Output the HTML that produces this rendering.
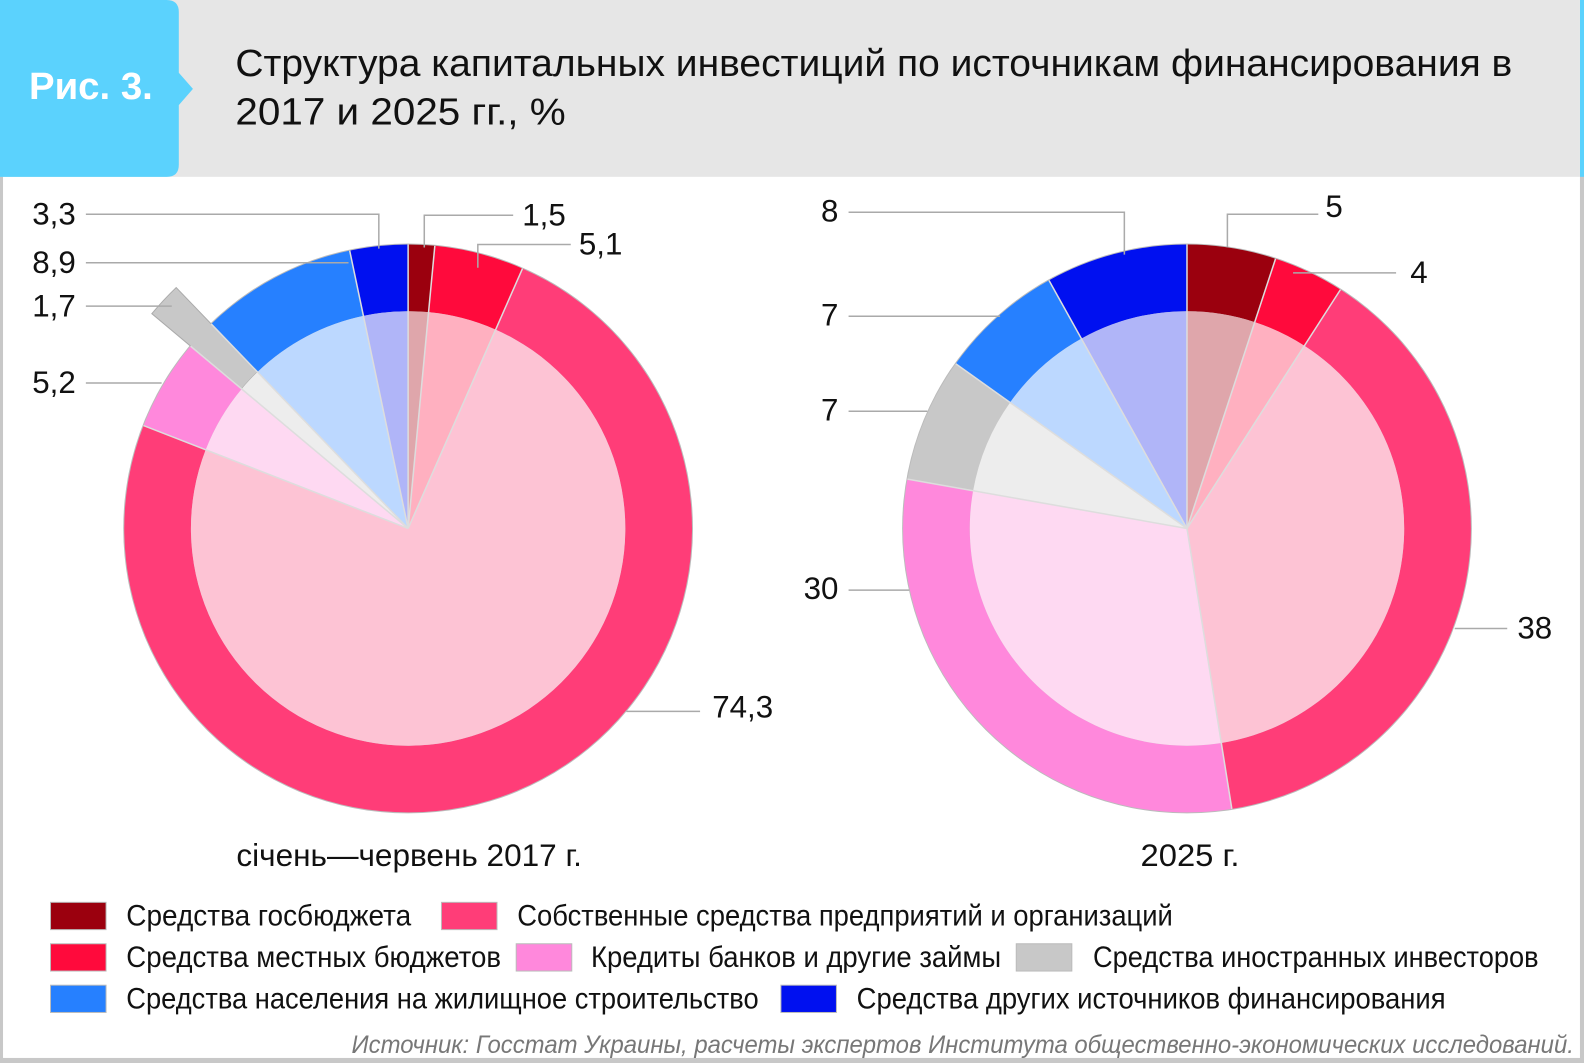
<!DOCTYPE html>
<html><head><meta charset="utf-8"><style>
html,body{margin:0;padding:0;background:#fff;}
svg{display:block;}
text{font-family:"Liberation Sans Narrow","Liberation Sans",sans-serif;}
</style></head><body>
<svg id="chart" width="1584" height="1063" viewBox="0 0 1568 1052" preserveAspectRatio="none" xmlns="http://www.w3.org/2000/svg">
  <rect x="0" y="0" width="1568" height="1052" fill="#fff"/>
  <rect x="0" y="0" width="3" height="1052" fill="#c8c8c8"/>
  <rect x="1564" y="0" width="4" height="1052" fill="#c8c8c8"/>
  <rect x="1564" y="0" width="4" height="175" fill="#5bd2fd"/>
  <rect x="0" y="1047" width="1568" height="5" fill="#c8c8c8"/>
  <rect x="0" y="0" width="1564" height="175" fill="#e6e6e6"/>
  <path d="M0 0 H165 Q177 0 177 12 V72 L191 88 L177 104 V163 Q177 175 165 175 H0 Z" fill="#5bd2fd"/>
  <text x="90" y="98" text-anchor="middle" font-size="38" font-weight="bold" fill="#fff" style="font-family:'Liberation Sans',sans-serif">Рис. 3.</text>
  <text x="233" y="75" font-size="38" fill="#111" textLength="1264" lengthAdjust="spacingAndGlyphs">Структура капитальных инвестиций по источникам финансирования в</text>
  <text x="233" y="123" font-size="38" fill="#111" textLength="327" lengthAdjust="spacingAndGlyphs">2017 и 2025 гг., %</text>
  <g id="pies"></g>
  <g id="labels"></g>
  <text x="405" y="857" text-anchor="middle" font-size="31" fill="#111" textLength="342" lengthAdjust="spacingAndGlyphs">січень—червень 2017 г.</text>
  <text x="1178" y="857" text-anchor="middle" font-size="31" fill="#111" textLength="98" lengthAdjust="spacingAndGlyphs">2025 г.</text>
  <g id="legend"></g>
  <text x="1558" y="1042" text-anchor="end" font-size="25" font-style="italic" fill="#777" textLength="1210" lengthAdjust="spacingAndGlyphs">Источник: Госстат Украины, расчеты экспертов Института общественно-экономических исследований.</text>
</svg>
<script>
const categories = ["Средства госбюджета","Средства местных бюджетов","Собственные средства предприятий и организаций","Кредиты банков и другие займы","Средства иностранных инвесторов","Средства населения на жилищное строительство","Средства других источников финансирования"];
const values2017 = [1.5, 5.1, 74.3, 5.2, 1.7, 8.9, 3.3];
const values2025 = [5, 4, 38, 30, 7, 7, 8];
const labels2017 = ["1,5","5,1","74,3","5,2","1,7","8,9","3,3"];
const labels2025 = ["5","4","38","30","7","7","8"];
const outerColors = ["#9b000e","#ff0a3c","#ff3d78","#ff88dc","#c8c8c8","#2680ff","#0010f0"];
const innerColors = ["#dfa6ab","#ffb0c0","#fdc3d4","#fed9f2","#ededed","#bcd8ff","#b0b5f8"];
const NS = "http://www.w3.org/2000/svg";
const R_OUT = 281, R_IN = 215;
function mk(tag, attrs, parent){const e=document.createElementNS(NS,tag);for(const k in attrs)e.setAttribute(k,attrs[k]);parent.appendChild(e);return e;}
function pt(cx,cy,r,a){return [cx+r*Math.sin(a), cy-r*Math.cos(a)];}
function wedge(cx,cy,r0,r1,a0,a1){
  const large=(a1-a0)>Math.PI?1:0;
  const p0=pt(cx,cy,r1,a0),p1=pt(cx,cy,r1,a1);
  if(r0<=0) return `M${cx} ${cy} L${p0[0]} ${p0[1]} A${r1} ${r1} 0 ${large} 1 ${p1[0]} ${p1[1]} Z`;
  const q1=pt(cx,cy,r0,a1),q0=pt(cx,cy,r0,a0);
  return `M${p0[0]} ${p0[1]} A${r1} ${r1} 0 ${large} 1 ${p1[0]} ${p1[1]} L${q1[0]} ${q1[1]} A${r0} ${r0} 0 ${large} 0 ${q0[0]} ${q0[1]} Z`;
}
const pies=document.getElementById('pies');
function drawPie(cx,cy,vals,name,explode){
  const g=mk('g',{},pies);
  
  
  const total=vals.reduce((a,b)=>a+b,0);
  mk('circle',{cx:cx,cy:cy,r:R_OUT+1,fill:'#bbb'},g);
  let a=0;
  vals.forEach((v,i)=>{
    const a1=a+v/total*2*Math.PI;
    const rOut = (explode===i)? R_OUT+50 : R_OUT;
    const o=mk('path',{d:wedge(cx,cy,R_IN,rOut,a,a1),fill:outerColors[i],stroke:(explode===i)?'#aaa':'none','stroke-width':1},g);
    
    
    const n=mk('path',{d:wedge(cx,cy,0,R_IN,a,a1),fill:innerColors[i]},g);
    
    
    a=a1;
  });
  a=0;
  vals.forEach((v)=>{
    const p=pt(cx,cy,R_OUT,a);
    mk('line',{x1:cx,y1:cy,x2:p[0],y2:p[1],stroke:'#ddd','stroke-width':1.5},g);
    a+=v/total*2*Math.PI;
  });
}
drawPie(404,523,values2017,'pie-2017',4);
drawPie(1175,523,values2025,'pie-2025',-1);

const lab=document.getElementById('labels');
const lead2017=[
 {i:6,pts:"85,212 375,212 375,246",tx:75,ty:222,anchor:'end'},
 {i:5,pts:"85,260 345,260",tx:75,ty:270,anchor:'end'},
 {i:4,pts:"85,303 170,303",tx:75,ty:313,anchor:'end'},
 {i:3,pts:"85,379 160,379",tx:75,ty:389,anchor:'end'},
 {i:0,pts:"420,245 420,213 508,213",tx:517,ty:223,anchor:'start'},
 {i:1,pts:"473,265 473,242 565,242",tx:573,ty:252,anchor:'start'},
 {i:2,pts:"620,704 693,704",tx:705,ty:710,anchor:'start'}
];
const lead2025=[
 {i:6,pts:"840,210 1113,210 1113,252",tx:830,ty:219,anchor:'end'},
 {i:0,pts:"1215,245 1215,212 1305,212",tx:1312,ty:215,anchor:'start'},
 {i:1,pts:"1280,270 1382,270",tx:1396,ty:280,anchor:'start'},
 {i:5,pts:"840,313 990,313",tx:830,ty:322,anchor:'end'},
 {i:4,pts:"840,407 918,407",tx:830,ty:416,anchor:'end'},
 {i:3,pts:"840,584 900,584",tx:830,ty:593,anchor:'end'},
 {i:2,pts:"1440,622 1492,622",tx:1502,ty:632,anchor:'start'}
];
function drawLabels(list,labels,name){
  list.forEach(d=>{
    const l=mk('polyline',{points:d.pts,fill:'none',stroke:'#aaa','stroke-width':1.5},lab);
    
    
    const t=mk('text',{x:d.tx,y:d.ty,'text-anchor':d.anchor,'font-size':31,fill:'#111'},lab);
    t.textContent=labels[d.i];
    
    
  });
}
drawLabels(lead2017,labels2017,'pie-2017');
drawLabels(lead2025,labels2025,'pie-2025');

const leg=document.getElementById('legend');
const legendLayout=[
 {i:0,sx:50,y:893,tx:125,tw:282},
 {i:2,sx:437,y:893,tx:512,tw:649},
 {i:1,sx:50,y:934,tx:125,tw:371},
 {i:3,sx:511,y:934,tx:585,tw:406},
 {i:4,sx:1006,y:934,tx:1082,tw:441},
 {i:5,sx:50,y:975,tx:125,tw:626},
 {i:6,sx:773,y:975,tx:848,tw:583}
];
legendLayout.forEach(d=>{
  const g=mk('g',{},leg);
  
  
  mk('rect',{x:d.sx,y:d.y,width:55,height:27,fill:outerColors[d.i],stroke:'#bbb','stroke-width':1},g);
  const t=mk('text',{x:d.tx,y:d.y+23,'font-size':29,fill:'#111',textLength:d.tw,lengthAdjust:'spacingAndGlyphs'},g);
  t.textContent=categories[d.i];
});
</script>
</body></html>
